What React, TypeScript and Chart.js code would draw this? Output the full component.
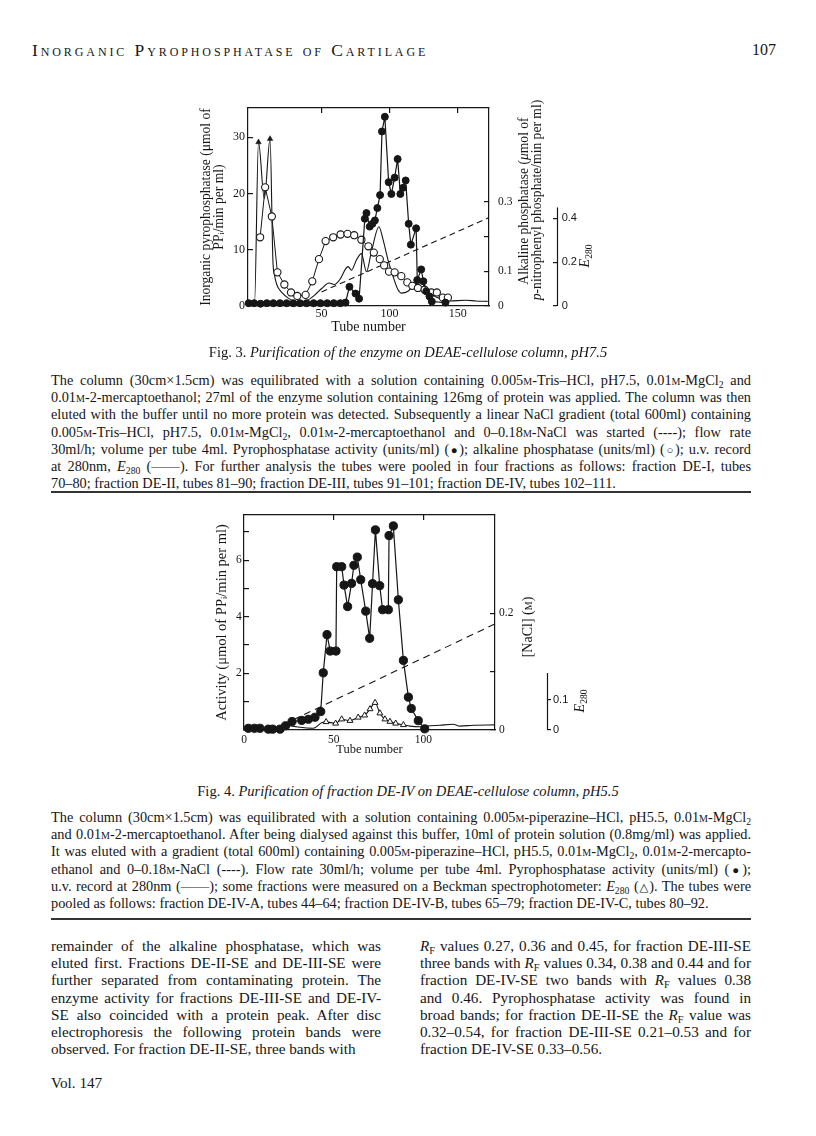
import React, { useEffect, useRef } from 'react';
import { Chart, registerables } from 'chart.js';

Chart.register(...registerables);

// ---------------- Fig. 3 data (DEAE-cellulose, pH 7.5) ----------------
const fig3XTicks = [50, 100, 150];
const fig3YTicks = [0, 10, 20, 30];
const fig3AlkTicks = [0, 0.1, 0.2, 0.3];
const fig3AlkLabels = [0, 0.1, 0.3];
const fig3E280Ticks = [0, 0.2, 0.4];

const fig3PyroTubes = [-3.5, 0.5, 5.2, 9.8, 14.6, 19.5, 24.4, 29.3, 34.2, 39, 44.2, 49.2, 54.2, 59, 63.8, 67.6, 70.5, 75, 77.6, 81.8, 83, 85.4, 87.4, 89.2, 91, 93, 94.4, 96.5, 99.3, 101.3, 103.7, 105.9, 107.9, 109.9, 111.8, 114, 115.6, 119.5, 120.3, 123.2, 124.8, 126.9, 129.3, 131, 141];
const fig3PyroValues = [0.5, 0.5, 0.4, 0.5, 0.5, 0.5, 0.5, 0.5, 0.5, 0.5, 0.5, 0.5, 0.5, 0.5, 0.5, 0.6, 3.4, 2.2, 1.3, 15.5, 16.5, 14.1, 14.6, 15.2, 17.4, 19.7, 31, 33.6, 22, 19.9, 22.8, 26.1, 19.9, 21, 22.3, 14.6, 10.9, 13.8, 4.6, 6.5, 4.4, 2.6, 1.7, 0.8, 0.6];

const fig3AlkTubes = [4.9, 8.6, 13.5, 17.6, 22.7, 27.6, 32.2, 38.3, 43.2, 48.1, 53, 58.6, 64, 69.1, 74, 79.3, 84.4, 88.4, 92.8, 96, 99.6, 103.7, 108.6, 113, 116.7, 120.8, 125.7, 130.6, 134.7, 139.1, 142.8];
const fig3AlkValues = [0.198, 0.342, 0.258, 0.097, 0.062, 0.039, 0.029, 0.032, 0.071, 0.135, 0.187, 0.198, 0.206, 0.208, 0.204, 0.191, 0.172, 0.154, 0.135, 0.117, 0.099, 0.097, 0.086, 0.068, 0.058, 0.052, 0.047, 0.039, 0.039, 0.024, 0.024];

const fig3E280Tubes = [-3.5, 0.8, 3.7, 8, 12.2, 14.3, 15.5, 17.1, 20.8, 25.6, 30.5, 35.4, 40.3, 45.2, 50.1, 55.6, 59.3, 63.5, 67.9, 69.5, 72, 75.7, 79.3, 83, 86.7, 92.2, 95.2, 98.8, 102.5, 106.1, 108.6, 113.5, 117.1, 120.8, 124.5, 128.1, 133, 139.1, 144, 156, 163.5, 172];
const fig3E280Values = [0.013, 0.013, 0.748, 0.49, 0.763, 0.206, 0.141, 0.098, 0.062, 0.036, 0.021, 0.017, 0.028, 0.051, 0.08, 0.105, 0.098, 0.121, 0.172, 0.18, 0.164, 0.211, 0.239, 0.157, 0.249, 0.362, 0.303, 0.211, 0.136, 0.075, 0.059, 0.067, 0.09, 0.108, 0.098, 0.067, 0.044, 0.031, 0.023, 0.026, 0.023, 0.021];
const fig3ArrowTubes = [3.7, 12.2];

const fig3GradientTubes = [50, 173];
const fig3GradientValues = [2.5, 15.7];

// ---------------- Fig. 4 data (fraction DE-IV, pH 5.5) ----------------
const fig4XTicks = [0, 50, 100];
const fig4TopTicks = [50, 100];
const fig4YTicks = [0, 1, 2, 3, 4, 5, 6, 7];
const fig4YLabels = [2, 4, 6];
const fig4NaClTicks = [0, 0.1, 0.2];
const fig4NaClLabels = [0, 0.2];
const fig4E280Ticks = [0, 0.1];

const fig4ActTubes = [2.4, 5.8, 8.9, 13.6, 16, 20.1, 23.2, 26.8, 32.2, 35.9, 39.6, 42.8, 44.2, 46.3, 48.1, 51.3, 51.7, 54.5, 55.8, 57.8, 60, 61.3, 63.2, 65.1, 67.9, 70.1, 71.7, 73.3, 75.7, 77.3, 80.5, 80.9, 83.3, 86.1, 88.9, 91.7, 93.3, 97.2, 100.8];
const fig4ActValues = [0.06, 0.06, 0.06, 0.03, 0.03, 0.03, 0.15, 0.3, 0.34, 0.38, 0.45, 0.65, 2.02, 3.37, 2.79, 2.79, 5.77, 5.77, 5.12, 4.36, 5.18, 5.82, 6.11, 5.31, 4.2, 3.24, 5.17, 7.07, 5.1, 4.25, 4.25, 6.87, 7.21, 4.6, 2.46, 1.16, 0.76, 0.33, 0.04];

const fig4BeckmanTubes = [45.8, 51.1, 54.5, 59.1, 63.7, 67.3, 70.3, 73.1, 75.8, 78.6, 81.4, 84.6, 88.9];
const fig4BeckmanValues = [0.027, 0.022, 0.036, 0.031, 0.042, 0.049, 0.07, 0.091, 0.056, 0.036, 0.028, 0.022, 0.017];

const fig4UvTubes = [22.9, 30, 38.7, 43.3, 45.8, 51.1, 54.5, 59.1, 63.7, 67.3, 70.3, 73.1, 75.8, 78.6, 81.4, 84.6, 88.9, 92.6, 98.2, 101.9, 109.3, 116.7, 120.5, 127.9, 140];
const fig4UvValues = [0.017, 0.01, 0.006, 0.024, 0.027, 0.022, 0.036, 0.031, 0.042, 0.049, 0.07, 0.091, 0.056, 0.036, 0.028, 0.022, 0.017, 0.013, 0.011, 0.013, 0.016, 0.019, 0.013, 0.016, 0.017];

const fig4NaClTubes = [15.4, 140];
const fig4NaClValues = [0, 0.182];

// ---------------- styling helpers ----------------
const INK = '#161616';
const SERIF = "'Liberation Serif', 'DejaVu Serif', serif";

const pts = (xs: number[], ys: number[]) => xs.map((x, i) => ({ x, y: ys[i] }));
const fixedTicks = (vals: number[]) => (s: any) => {
  s.ticks = vals.map((v) => ({ value: v }));
};
const fmt = (v: number) => (v === 0 ? '0' : String(v));

const partialAxisPlugin = {
  id: 'partialAxis',
  afterDraw(chart: any, _args: any, opts: any) {
    const s = chart.scales[opts.scaleID];
    if (!s) return;
    const ctx = chart.ctx;
    const x = Math.round(s.left) + 0.5;
    ctx.save();
    ctx.strokeStyle = INK;
    ctx.lineWidth = 1.2;
    ctx.beginPath();
    ctx.moveTo(x, s.getPixelForValue(opts.from));
    ctx.lineTo(x, s.getPixelForValue(opts.to));
    ctx.stroke();
    ctx.restore();
  },
};

const frameBorder = { display: true, color: INK, width: 1.2 };
const inwardGrid = (len: number) => ({ drawOnChartArea: false, drawTicks: true, tickLength: len, color: INK, lineWidth: 1.2 });
const noGrid = { display: false, drawTicks: false, drawOnChartArea: false };

function fig3Config(): any {
  return {
    type: 'line',
    data: {
      datasets: [
        {
          data: pts(fig3PyroTubes, fig3PyroValues), yAxisID: 'y', xAxisID: 'x',
          borderColor: INK, borderWidth: 1.2, pointRadius: 3.5, pointBackgroundColor: INK,
          pointBorderColor: INK, pointBorderWidth: 1, clip: 8,
        },
        {
          data: pts(fig3AlkTubes, fig3AlkValues), yAxisID: 'yA', xAxisID: 'x',
          borderColor: INK, borderWidth: 1, pointRadius: 3.6, pointBackgroundColor: '#ffffff',
          pointBorderColor: INK, pointBorderWidth: 1.1, clip: 8,
        },
        {
          data: pts(fig3E280Tubes, fig3E280Values), yAxisID: 'yE', xAxisID: 'x',
          borderColor: INK, borderWidth: 1.1, cubicInterpolationMode: 'monotone',
          pointStyle: 'triangle',
          pointRadius: (c: any) => (fig3ArrowTubes.includes(fig3E280Tubes[c.dataIndex]) ? 3.2 : 0),
          pointBackgroundColor: INK, pointBorderColor: INK, pointBorderWidth: 0.5, clip: 8,
        },
        {
          data: pts(fig3GradientTubes, fig3GradientValues), yAxisID: 'y', xAxisID: 'x',
          borderColor: INK, borderWidth: 1.1, borderDash: [6, 4], pointRadius: 0,
        },
      ],
    },
    options: {
      responsive: false, animation: false, devicePixelRatio: 1,
      layout: { padding: 0 },
      plugins: {
        legend: { display: false }, tooltip: { enabled: false },
        partialAxis: { scaleID: 'yE', from: 0, to: 0.45 },
      },
      scales: {
        x: {
          type: 'linear', position: 'bottom', min: -4, max: 173,
          afterBuildTicks: fixedTicks(fig3XTicks), afterFit: (s: any) => { s.height = 39; },
          grid: noGrid, border: frameBorder,
          ticks: { color: INK, font: { family: SERIF, size: 12 }, padding: 1, maxRotation: 0, autoSkip: false },
          title: { display: true, text: 'Tube number', color: INK, font: { family: SERIF, size: 14, lineHeight: 1 }, padding: { top: 0, bottom: 11 } },
        },
        xTop: {
          type: 'linear', position: 'top', min: -4, max: 173,
          afterBuildTicks: fixedTicks(fig3XTicks), afterFit: (s: any) => { s.height = 23; },
          grid: inwardGrid(-5), border: frameBorder, ticks: { display: false },
        },
        y: {
          type: 'linear', position: 'left', min: 0, max: 35.17,
          afterBuildTicks: fixedTicks(fig3YTicks), afterFit: (s: any) => { s.width = 68; },
          grid: inwardGrid(-5), border: frameBorder,
          ticks: { color: INK, font: { family: SERIF, size: 12 }, padding: 8, callback: (v: number) => fmt(v) },
          title: {
            display: true, color: INK,
            text: ['Inorganic pyrophosphatase (μmol of', 'PPᵢ/min per ml)'],
            font: { family: SERIF, size: 13.6, lineHeight: 1 }, padding: { top: 19.5, bottom: 0 },
          },
        },
        yA: {
          type: 'linear', position: 'right', weight: 0, min: 0, max: 0.5706,
          afterBuildTicks: fixedTicks(fig3AlkTicks), afterFit: (s: any) => { s.width = 68; },
          grid: inwardGrid(-5), border: frameBorder,
          ticks: { color: INK, font: { family: SERIF, size: 11.5 }, padding: 14, callback: (v: number) => (fig3AlkLabels.includes(v) ? fmt(v) : '') },
        },
        yE: {
          type: 'linear', position: 'right', weight: 1, min: 0, max: 0.904,
          afterBuildTicks: fixedTicks(fig3E280Ticks), afterFit: (s: any) => { s.width = 43; },
          grid: inwardGrid(-4), border: { display: false },
          ticks: { color: INK, font: { family: "'Liberation Sans', sans-serif", size: 11 }, padding: 8.7, callback: (v: number) => (v === 0 ? '0' : v.toFixed(1)) },
        },
      },
    },
    plugins: [partialAxisPlugin],
  };
}

function fig4Config(): any {
  return {
    type: 'line',
    data: {
      datasets: [
        {
          data: pts(fig4ActTubes, fig4ActValues), yAxisID: 'y', xAxisID: 'x',
          borderColor: INK, borderWidth: 1.2, pointRadius: 4.1, pointBackgroundColor: INK,
          pointBorderColor: INK, pointBorderWidth: 1, clip: 8,
        },
        {
          data: pts(fig4BeckmanTubes, fig4BeckmanValues), yAxisID: 'yE', xAxisID: 'x',
          showLine: false, pointStyle: 'triangle', pointRadius: 3.4, pointBackgroundColor: '#ffffff',
          pointBorderColor: INK, pointBorderWidth: 1, clip: 8,
        },
        {
          data: pts(fig4UvTubes, fig4UvValues), yAxisID: 'yE', xAxisID: 'x',
          borderColor: INK, borderWidth: 1.1, pointRadius: 0, cubicInterpolationMode: 'monotone',
        },
        {
          data: pts(fig4NaClTubes, fig4NaClValues), yAxisID: 'yN', xAxisID: 'x',
          borderColor: INK, borderWidth: 1.1, borderDash: [7, 5], pointRadius: 0,
        },
      ],
    },
    options: {
      responsive: false, animation: false, devicePixelRatio: 1,
      layout: { padding: 0 },
      plugins: {
        legend: { display: false }, tooltip: { enabled: false },
        partialAxis: { scaleID: 'yE', from: 0, to: 0.19 },
      },
      scales: {
        x: {
          type: 'linear', position: 'bottom', min: 0, max: 140,
          afterBuildTicks: fixedTicks(fig4XTicks), afterFit: (s: any) => { s.height = 30; },
          grid: noGrid, border: frameBorder,
          ticks: { color: INK, font: { family: SERIF, size: 11.5 }, padding: 3, maxRotation: 0, autoSkip: false, callback: (v: number) => fmt(v) },
          title: { display: true, text: 'Tube number', color: INK, font: { family: SERIF, size: 12.5, lineHeight: 1 }, padding: { top: 0, bottom: 4.5 } },
        },
        xTop: {
          type: 'linear', position: 'top', min: 0, max: 140,
          afterBuildTicks: fixedTicks(fig4TopTicks), afterFit: (s: any) => { s.height = 20; },
          grid: inwardGrid(-5), border: frameBorder, ticks: { display: false },
        },
        y: {
          type: 'linear', position: 'left', min: 0, max: 7.597,
          afterBuildTicks: fixedTicks(fig4YTicks), afterFit: (s: any) => { s.width = 64; },
          grid: inwardGrid(-5), border: frameBorder,
          ticks: { color: INK, font: { family: SERIF, size: 11.5 }, padding: 7.3, callback: (v: number) => (fig4YLabels.includes(v) ? fmt(v) : '') },
          title: {
            display: true, color: INK, text: 'Activity (μmol of PPᵢ/min per ml)',
            font: { family: SERIF, size: 14.5, lineHeight: 1 }, padding: { top: 34.5, bottom: 0 },
          },
        },
        yN: {
          type: 'linear', position: 'right', weight: 0, min: 0, max: 0.3688,
          afterBuildTicks: fixedTicks(fig4NaClTicks), afterFit: (s: any) => { s.width = 52; },
          grid: inwardGrid(-5), border: frameBorder,
          ticks: { color: INK, font: { family: SERIF, size: 11.5 }, padding: 9, callback: (v: number) => (fig4NaClLabels.includes(v) ? fmt(v) : '') },
        },
        yE: {
          type: 'linear', position: 'right', weight: 1, min: 0, max: 0.7167,
          afterBuildTicks: fixedTicks(fig4E280Ticks), afterFit: (s: any) => { s.width = 53; },
          grid: inwardGrid(4), border: { display: false },
          ticks: { color: INK, font: { family: "'Liberation Sans', sans-serif", size: 11 }, padding: 2, callback: (v: number) => (v === 0 ? '0' : v.toFixed(1)) },
        },
      },
    },
    plugins: [partialAxisPlugin],
  };
}

function ChartCanvas({ left, top, width, height, build }: any) {
  const ref = useRef<HTMLCanvasElement>(null);
  useEffect(() => {
    const chart = new Chart(ref.current as HTMLCanvasElement, build());
    return () => chart.destroy();
  }, []);
  return (
    <canvas ref={ref} width={width} height={height}
      style={{ position: 'absolute', left, top, width, height, display: 'block' }} />
  );
}

// ---------------- text helpers ----------------
const M = () => <span style={{ fontVariant: 'small-caps' }}>m</span>;
const Sub = ({ c }: { c: string }) => (
  <sub style={{ fontSize: '0.68em', verticalAlign: '-0.28em', lineHeight: 0 }}>{c}</sub>
);
const E280 = () => (<><i>E</i><Sub c="280" /></>);
const RF = () => (<><i>R</i><Sub c="F" /></>);
const Sym = ({ c }: { c: string }) => <span style={{ fontSize: '0.8em' }}>{c}</span>;

function Rotated({ cx, cy, size, children }: any) {
  return (
    <div style={{
      position: 'absolute', left: cx, top: cy, transform: 'translate(-50%, -50%) rotate(-90deg)',
      whiteSpace: 'nowrap', fontSize: size, lineHeight: 1, color: INK,
    }}>{children}</div>
  );
}

function Lines({ left, width, firstY, step, size, lines }: any) {
  return (
    <>
      {lines.map((ln: any, i: number) => {
        const last = i === lines.length - 1;
        return (
          <div key={i} style={{
            position: 'absolute', left, width, top: firstY + i * step - 9, height: 18, lineHeight: '18px',
            fontSize: size, whiteSpace: 'nowrap', textAlign: last ? 'left' : 'justify',
            textAlignLast: last ? 'left' : 'justify', color: INK,
          } as any}>{ln}</div>
        );
      })}
    </>
  );
}

const fig3Legend = [
  <>The column (30cm×1.5cm) was equilibrated with a solution containing 0.005<M />-Tris–HCl, pH7.5, 0.01<M />-MgCl<Sub c="2" /> and</>,
  <>0.01<M />-2-mercaptoethanol; 27ml of the enzyme solution containing 126mg of protein was applied. The column was then</>,
  <>eluted with the buffer until no more protein was detected. Subsequently a linear NaCl gradient (total 600ml) containing</>,
  <>0.005<M />-Tris–HCl, pH7.5, 0.01<M />-MgCl<Sub c="2" />, 0.01<M />-2-mercaptoethanol and 0–0.18<M />-NaCl was started (----); flow rate</>,
  <>30ml/h; volume per tube 4ml. Pyrophosphatase activity (units/ml) (<Sym c="●" />); alkaline phosphatase (units/ml) (<Sym c="○" />); u.v. record</>,
  <>at 280nm, <E280 /> (——). For further analysis the tubes were pooled in four fractions as follows: fraction DE-I, tubes</>,
  <>70–80; fraction DE-II, tubes 81–90; fraction DE-III, tubes 91–101; fraction DE-IV, tubes 102–111.</>,
];

const fig4Legend = [
  <>The column (30cm×1.5cm) was equilibrated with a solution containing 0.005<M />-piperazine–HCl, pH5.5, 0.01<M />-MgCl<Sub c="2" /></>,
  <>and 0.01<M />-2-mercaptoethanol. After being dialysed against this buffer, 10ml of protein solution (0.8mg/ml) was applied.</>,
  <>It was eluted with a gradient (total 600ml) containing 0.005<M />-piperazine–HCl, pH5.5, 0.01<M />-MgCl<Sub c="2" />, 0.01<M />-2-mercapto-</>,
  <>ethanol and 0–0.18<M />-NaCl (----). Flow rate 30ml/h; volume per tube 4ml. Pyrophosphatase activity (units/ml) (<Sym c="●" />);</>,
  <>u.v. record at 280nm (——); some fractions were measured on a Beckman spectrophotometer: <E280 /> (<Sym c="△" />). The tubes were</>,
  <>pooled as follows: fraction DE-IV-A, tubes 44–64; fraction DE-IV-B, tubes 65–79; fraction DE-IV-C, tubes 80–92.</>,
];

const bodyLeft = [
  <>remainder of the alkaline phosphatase, which was</>,
  <>eluted first. Fractions DE-II-SE and DE-III-SE were</>,
  <>further separated from contaminating protein. The</>,
  <>enzyme activity for fractions DE-III-SE and DE-IV-</>,
  <>SE also coincided with a protein peak. After disc</>,
  <>electrophoresis the following protein bands were</>,
  <>observed. For fraction DE-II-SE, three bands with</>,
];

const bodyRight = [
  <><RF /> values 0.27, 0.36 and 0.45, for fraction DE-III-SE</>,
  <>three bands with <RF /> values 0.34, 0.38 and 0.44 and for</>,
  <>fraction DE-IV-SE two bands with <RF /> values 0.38</>,
  <>and 0.46. Pyrophosphatase activity was found in</>,
  <>broad bands; for fraction DE-II-SE the <RF /> value was</>,
  <>0.32–0.54, for fraction DE-III-SE 0.21–0.53 and for</>,
  <>fraction DE-IV-SE 0.33–0.56.</>,
];

export default function App() {
  return (
    <div style={{
      position: 'absolute', left: 0, top: 0, width: 816, height: 1136, background: '#ffffff',
      fontFamily: SERIF, color: INK, overflow: 'hidden',
    }}>
      {/* running head */}
      <div style={{ position: 'absolute', left: 32, top: 40, fontSize: 17.5, lineHeight: '20px', fontVariant: 'small-caps', letterSpacing: '2.9px', whiteSpace: 'nowrap' }}>
        Inorganic Pyrophosphatase of Cartilage
      </div>
      <div style={{ position: 'absolute', left: 752, top: 40, fontSize: 16, lineHeight: '20px' }}>107</div>

      {/* Fig. 3 */}
      <ChartCanvas left={180} top={85} width={420} height={260} build={fig3Config} />
      <Rotated cx={523.5} cy={201} size={13.6}>Alkaline phosphatase (<i>μ</i>mol of</Rotated>
      <Rotated cx={537} cy={200} size={13.6}><i>p</i>-nitrophenyl phosphate/min per ml)</Rotated>
      <Rotated cx={585} cy={256} size={14}><E280 /></Rotated>

      <div style={{ position: 'absolute', left: 0, width: 816, top: 343, lineHeight: '18px', fontSize: 14.5, textAlign: 'center' }}>
        Fig. 3. <i>Purification of the enzyme on DEAE-cellulose column, pH7.5</i>
      </div>
      <Lines left={51} width={700} firstY={380} step={17.2} size={14.3} lines={fig3Legend} />
      <div style={{ position: 'absolute', left: 51, width: 700, top: 491, height: 1.5, background: '#333' }} />

      {/* Fig. 4 */}
      <ChartCanvas left={180} top={495} width={420} height={265} build={fig4Config} />
      <Rotated cx={528} cy={627} size={14}>[NaCl] (<M />)</Rotated>
      <Rotated cx={580} cy={701} size={14}><E280 /></Rotated>

      <div style={{ position: 'absolute', left: 0, width: 816, top: 782, lineHeight: '18px', fontSize: 14.5, textAlign: 'center' }}>
        Fig. 4. <i>Purification of fraction DE-IV on DEAE-cellulose column, pH5.5</i>
      </div>
      <Lines left={51} width={700} firstY={817} step={17.2} size={14.3} lines={fig4Legend} />
      <div style={{ position: 'absolute', left: 51, width: 700, top: 918, height: 1.5, background: '#333' }} />

      {/* body text */}
      <Lines left={51} width={330} firstY={946} step={17.2} size={15.2} lines={bodyLeft} />
      <Lines left={420} width={331} firstY={946} step={17.2} size={15.2} lines={bodyRight} />
      <div style={{ position: 'absolute', left: 51, top: 1074, fontSize: 15.2, lineHeight: '18px' }}>Vol. 147</div>
    </div>
  );
}
